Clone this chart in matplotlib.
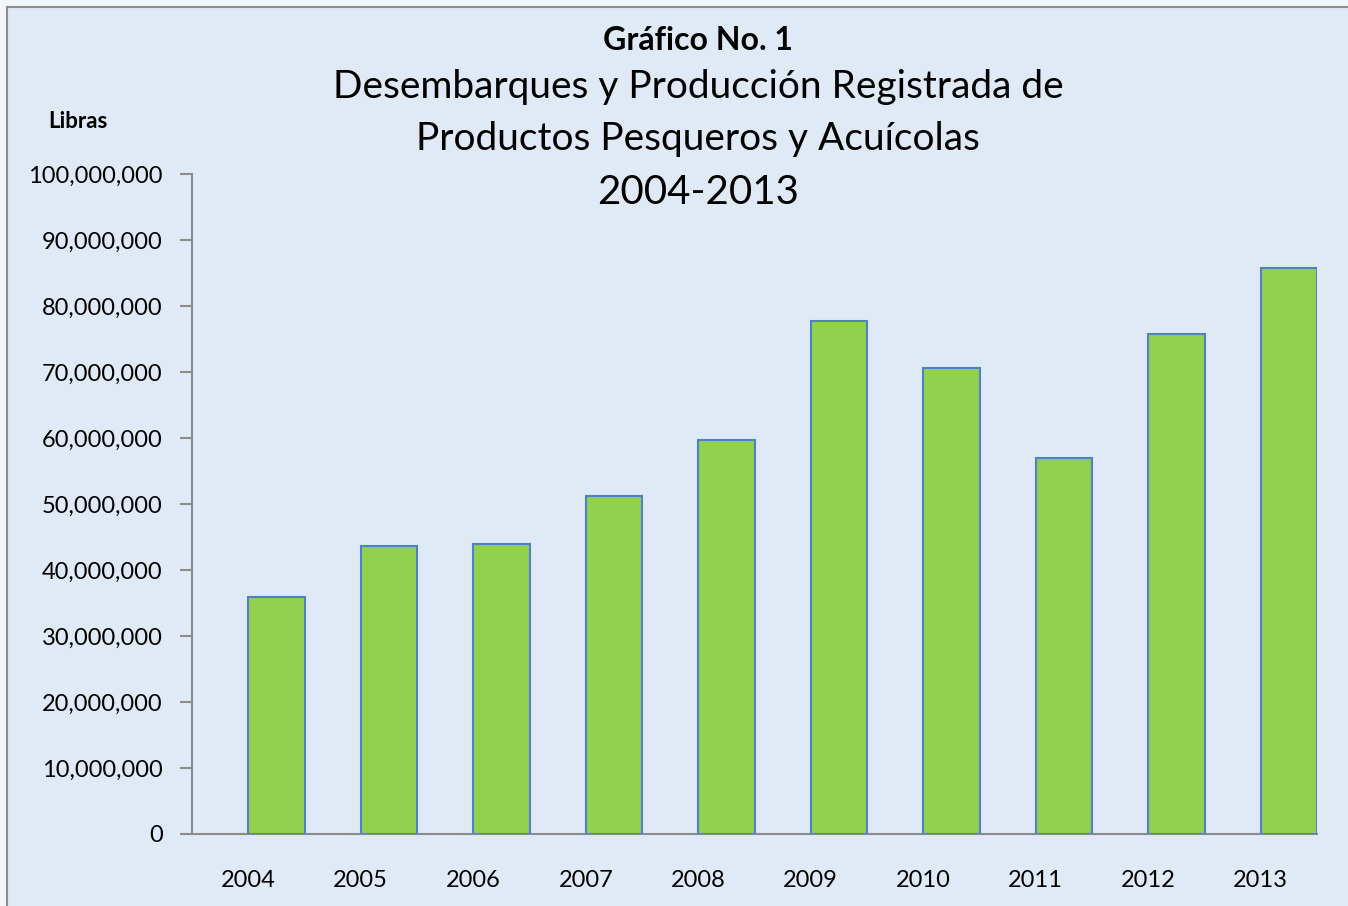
import matplotlib
matplotlib.use("Agg")
import matplotlib.pyplot as plt
from matplotlib.ticker import FuncFormatter, MultipleLocator
from matplotlib.patches import Rectangle
from matplotlib.lines import Line2D

years = ["2004", "2005", "2006", "2007", "2008", "2009", "2010", "2011", "2012", "2013"]
libras = [35_900_000, 43_700_000, 44_000_000, 51_200_000, 59_700_000,
          77_800_000, 70_600_000, 57_000_000, 75_800_000, 85_700_000]

title_line1 = "Gráfico No. 1"
title_line2 = "Desembarques y Producción Registrada de"
title_line3 = "Productos Pesqueros y Acuícolas"
title_line4 = "2004-2013"
y_label = "Libras"

plt.rcParams['font.family'] = ['Lato', 'DejaVu Sans']

W, H = 1348, 906
bg = "#dfeaf6"
outer = "#f1f6fb"
fig = plt.figure(figsize=(W/100, H/100), dpi=100, facecolor=outer)

# chart area background + top/left border (image is cropped on right/bottom)
fig.patches.append(Rectangle((7/W, 0.0), 1, 1-7/H, transform=fig.transFigure,
                             facecolor=bg, edgecolor="none", zorder=-10))
fig.lines.append(Line2D([7/W, 1], [1-7/H, 1-7/H], transform=fig.transFigure,
                        color="#8c8c8c", linewidth=1.5, zorder=-5))
fig.lines.append(Line2D([7/W, 7/W], [0, 1-7/H], transform=fig.transFigure,
                        color="#8c8c8c", linewidth=1.5, zorder=-5))

ax = fig.add_axes([192/W, 1-834/H, (1317-192)/W, (834-174)/H])
ax.set_facecolor(bg)

x = list(range(len(years)))
ax.bar(x, libras, width=0.5, align='edge', color="#92d050", edgecolor="#4f81c7", linewidth=1.5, zorder=3)

ax.set_xlim(-0.5, 9.5)
ax.set_ylim(0, 100_000_000)
ax.yaxis.set_major_locator(MultipleLocator(10_000_000))
ax.yaxis.set_major_formatter(FuncFormatter(lambda v, p: f"{int(v):,}"))
ax.set_xticks(x)
ax.set_xticklabels(years)

for s in ["top", "right"]:
    ax.spines[s].set_visible(False)
for s in ["left", "bottom"]:
    ax.spines[s].set_color("#8c8c8c")
    ax.spines[s].set_linewidth(1.5)

ax.tick_params(axis='y', direction='out', length=9, width=1.5, color="#8c8c8c",
               labelsize=17, pad=12, labelcolor="black")
ax.tick_params(axis='x', length=0, labelsize=17, pad=26, labelcolor="black")

fig.text(698/W, 1-40/H, title_line1, ha='center', va='center', fontsize=23, fontweight='bold')
fig.text(698/W, 1-87/H, title_line2, ha='center', va='center', fontsize=28)
fig.text(698/W, 1-139/H, title_line3, ha='center', va='center', fontsize=28)
fig.text(698/W, 1-192/H, title_line4, ha='center', va='center', fontsize=29)
fig.text(78/W, 1-122/H, y_label, ha='center', va='center', fontsize=16, fontweight='bold')

fig.savefig("out.png", dpi=100, facecolor=outer)
